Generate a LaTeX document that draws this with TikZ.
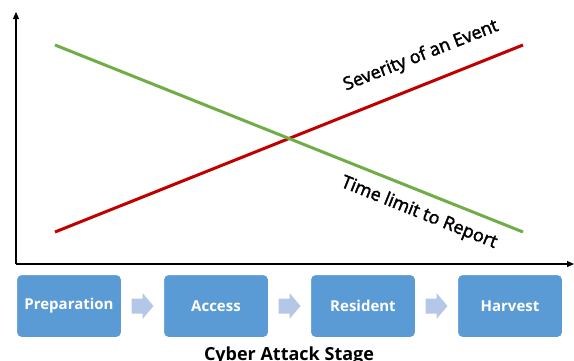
\documentclass[tikz,border=0pt]{standalone}
\usepackage{fontspec}
\setmainfont{Open Sans}
\newfontfamily\semib[FakeBold=2.2]{Open Sans}
\usetikzlibrary{arrows.meta,calc}
\definecolor{boxblue}{HTML}{5B9BD5}
\definecolor{arrowblue}{HTML}{B4C7E7}
\definecolor{linegreen}{HTML}{70AD47}
\definecolor{linered}{HTML}{C00000}
\tikzset{
  stagebox/.style={draw=white, line width=1pt, fill=boxblue, rounded corners=5pt, minimum width=105pt, minimum height=63pt, text=white, font=\bfseries\fontsize{15}{17}\selectfont, anchor=north west},
  chevfill/.style={fill=arrowblue, draw=none},
  axis/.style={draw=black, line width=1.3pt, -{Triangle[length=7pt,width=6pt]}},
  curvelbl/.style={font=\semib\fontsize{18}{20}\selectfont, text=black}
}
\newcommand{\chevat}[1]{\fill[chevfill] ($(#1)+(-11,-7.5)$) -- ($(#1)+(0,-7.5)$) -- ($(#1)+(0,-13)$) -- ($(#1)+(11,0)$) -- ($(#1)+(0,13)$) -- ($(#1)+(0,7.5)$) -- ($(#1)+(-11,7.5)$) -- cycle;}
\begin{document}
\begin{tikzpicture}[x=1pt,y=-1pt]
\useasboundingbox (0,0) rectangle (574,360);
\coordinate (origin) at (16,264);
\coordinate (ytop) at (16,12);
\coordinate (xend) at (574,264);
\draw[axis] (origin) -- (ytop);
\draw[axis] (origin) -- (xend);
\coordinate (g1) at (55,45);
\coordinate (g2) at (523,232);
\coordinate (r1) at (55,232);
\coordinate (r2) at (523,45);
\draw[linered, line width=3pt] (r1) -- (r2);
\draw[linegreen, line width=3pt] (g1) -- (g2);
\node[curvelbl, rotate=21.5] (sev) at (421,56) {Severity of an Event};
\node[curvelbl, rotate=-21.8] (tl) at (419,213) {Time limit to Report};
\node[stagebox] (p) at (16,274) {Preparation};
\node[stagebox] (a) at (163,274) {Access};
\node[stagebox] (r) at (310,274) {Resident};
\node[stagebox] (h) at (457,274) {Harvest};
\coordinate (c1) at ($(p.east)!0.5!(a.west)$);
\coordinate (c2) at ($(a.east)!0.5!(r.west)$);
\coordinate (c3) at ($(r.east)!0.5!(h.west)$);
\chevat{c1}
\chevat{c2}
\chevat{c3}
\node[font=\bfseries\fontsize{18}{20}\selectfont] (title) at (289,356) {Cyber Attack Stage};
\end{tikzpicture}
\end{document}
